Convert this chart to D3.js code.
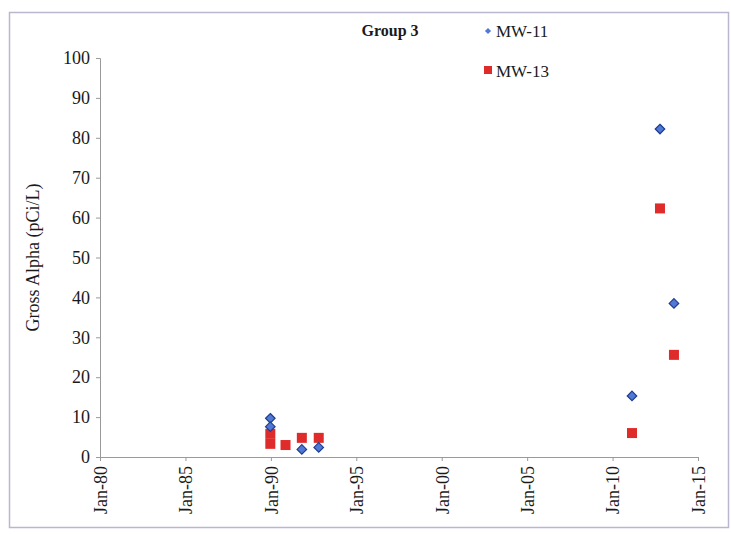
<!DOCTYPE html>
<html>
<head>
<meta charset="utf-8">
<script src="https://cdn.jsdelivr.net/npm/d3@7"></script>
<style>
  html, body { margin: 0; padding: 0; background: #fff; }
  svg { display: block; }
</style>
</head>
<body>
<svg id="chart" width="731" height="534"></svg>
<script>
// Gross alpha sampling results, Group 3 wells
const mw11Dates  = ["1989-12-20", "1989-12-20", "1991-10-25", "1992-10-20", "2011-02-20", "2012-10-10", "2013-08-05"];
const mw11Values = [9.7, 7.6, 1.9, 2.4, 15.3, 82.2, 38.5];

const mw13Dates  = ["1989-12-20", "1989-12-20", "1990-11-10", "1991-10-25", "1992-10-20", "2011-02-20", "2012-10-10", "2013-08-05"];
const mw13Values = [5.8, 3.3, 3.0, 4.8, 4.8, 6.0, 62.3, 25.6];

const xTickYears = [1980, 1985, 1990, 1995, 2000, 2005, 2010, 2015];
const yTicks = [0, 10, 20, 30, 40, 50, 60, 70, 80, 90, 100];

const chartTitle = "Group 3";
const seriesNames = ["MW-11", "MW-13"];
const yAxisTitle = "Gross Alpha (pCi/L)";

const parse = d3.timeParse("%Y-%m-%d");
const fmt = d3.timeFormat("%b-%y");

const svg = d3.select("#chart");
const font = "'Liberation Serif', 'Times New Roman', serif";
const ink = "#1a1a1a";

// outer chart border
svg.append("rect")
  .attr("x", 9.5).attr("y", 12.5)
  .attr("width", 719).attr("height", 515)
  .attr("fill", "none").attr("stroke", "#b9b6cf").attr("stroke-width", 1.5);

const plot = { left: 100, right: 698, top: 58, bottom: 457 };

const x = d3.scaleTime()
  .domain([new Date(1980, 0, 1), new Date(2015, 0, 1)])
  .range([plot.left, plot.right]);
const y = d3.scaleLinear().domain([0, 100]).range([plot.bottom, plot.top]);

// y axis
const yAxis = svg.append("g")
  .attr("transform", `translate(${plot.left},0)`)
  .call(d3.axisLeft(y).tickValues(yTicks).tickSize(4).tickPadding(6));
yAxis.select(".domain").attr("stroke", "#9a9a9a");
yAxis.selectAll(".tick line").attr("stroke", "#9a9a9a");
yAxis.selectAll("text")
  .attr("font-family", font).attr("font-size", 18).attr("fill", ink);

// x axis
const xAxis = svg.append("g")
  .attr("transform", `translate(0,${plot.bottom})`)
  .call(d3.axisBottom(x)
    .tickValues(xTickYears.map(yr => new Date(yr, 0, 1)))
    .tickFormat(fmt).tickSize(4).tickPadding(6));
xAxis.select(".domain").attr("stroke", "#9a9a9a");
xAxis.selectAll(".tick line").attr("stroke", "#9a9a9a");
xAxis.selectAll("text")
  .attr("font-family", font).attr("font-size", 18).attr("fill", ink)
  .attr("transform", "rotate(-90)")
  .attr("text-anchor", "end")
  .attr("x", -9).attr("y", 0).attr("dy", "0.35em");

// y axis title
svg.append("text")
  .attr("transform", `translate(39,${(plot.top + plot.bottom) / 2}) rotate(-90)`)
  .attr("text-anchor", "middle")
  .attr("font-family", font).attr("font-size", 18).attr("fill", ink)
  .text(yAxisTitle);

// markers
const diamond = d3.symbol().type(d3.symbolDiamond2).size(58);
const mw11 = mw11Dates.map((d, i) => ({ date: parse(d), value: mw11Values[i] }));
const mw13 = mw13Dates.map((d, i) => ({ date: parse(d), value: mw13Values[i] }));

svg.append("g").selectAll("rect")
  .data(mw13).join("rect")
  .attr("x", d => x(d.date) - 5)
  .attr("y", d => y(d.value) - 5)
  .attr("width", 10).attr("height", 10)
  .attr("fill", "#e02b2b");

svg.append("g").selectAll("path")
  .data(mw11).join("path")
  .attr("d", diamond)
  .attr("transform", d => `translate(${x(d.date)},${y(d.value)})`)
  .attr("fill", "#5079d6").attr("stroke", "#1e3d8f").attr("stroke-width", 1.2);

// title and legend
svg.append("text")
  .attr("x", 390).attr("y", 36)
  .attr("text-anchor", "middle")
  .attr("font-family", font).attr("font-size", 16).attr("font-weight", "bold").attr("fill", ink)
  .text(chartTitle);

const legend = svg.append("g");
legend.append("path")
  .attr("d", d3.symbol().type(d3.symbolDiamond2).size(24))
  .attr("transform", "translate(488,31)")
  .attr("fill", "#5079d6");
legend.append("rect")
  .attr("x", 484).attr("y", 66).attr("width", 8).attr("height", 8)
  .attr("fill", "#e02b2b");
legend.selectAll("text.lbl")
  .data(seriesNames).join("text")
  .attr("class", "lbl")
  .attr("x", 496).attr("y", (d, i) => 37 + i * 40)
  .attr("font-family", font).attr("font-size", 17).attr("fill", ink)
  .text(d => d);
</script>
</body>
</html>
